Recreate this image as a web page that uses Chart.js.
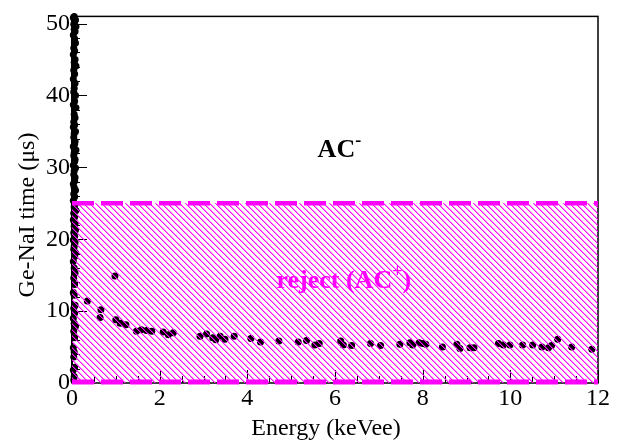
<!DOCTYPE html>
<html>
<head>
<meta charset="utf-8">
<script src="https://cdn.jsdelivr.net/npm/chart.js@4/dist/chart.umd.min.js"></script>
<style>
  html, body { margin: 0; padding: 0; background: #fff; }
  canvas { display: block; }
</style>
</head>
<body>
<canvas id="c" width="625" height="446"></canvas>
<script>
const xTicks = [0, 2, 4, 6, 8, 10, 12];
const yTicks = [0, 10, 20, 30, 40, 50];

// events piled up near zero energy (keVee, µs)
const bandEnergy = [
  0.05, 0.03, 0.08, 0.06, 0.04, 0.09, 0.05, 0.07, 0.03, 0.06,
  0.08, 0.04, 0.06, 0.03, 0.07, 0.05, 0.09, 0.04, 0.06, 0.03,
  0.07, 0.05, 0.04, 0.08, 0.06, 0.03, 0.09, 0.05, 0.07, 0.04,
  0.06, 0.03, 0.08, 0.05, 0.04, 0.07, 0.06, 0.03, 0.09, 0.05,
  0.04, 0.07, 0.06, 0.03, 0.08, 0.05, 0.04, 0.07, 0.06, 0.03,
  0.05, 0.08, 0.04, 0.06, 0.03, 0.07, 0.05, 0.09, 0.04, 0.06,
  0.03, 0.07, 0.05, 0.08, 0.04, 0.06, 0.03, 0.07, 0.05, 0.04,
  0.08, 0.06, 0.03, 0.05, 0.07, 0.04, 0.06, 0.03, 0.05, 0.07,
  0.04, 0.06, 0.03, 0.05, 0.08, 0.04, 0.06, 0.03, 0.05, 0.04,
  0.06, 0.03, 0.05, 0.04
];
const bandTime = [
  51.0, 50.8, 50.5, 50.3, 49.9, 49.6, 49.2, 48.9, 48.4, 47.9,
  47.3, 46.6, 46.2, 45.7, 45.0, 44.6, 44.1, 43.5, 43.0, 42.3,
  41.7, 41.0, 40.5, 40.0, 39.2, 38.7, 38.3, 37.4, 36.9, 36.3,
  35.9, 35.6, 35.0, 34.7, 34.2, 33.6, 33.2, 32.9, 32.4, 32.0,
  31.6, 31.1, 30.8, 30.3, 29.9, 29.5, 29.0, 28.6, 28.1, 27.7,
  27.2, 26.8, 26.3, 25.9, 25.4, 24.9, 24.5, 24.0, 23.6, 23.1,
  22.7, 22.2, 21.8, 21.3, 20.9, 20.4, 19.9, 19.5, 19.0, 18.6,
  18.1, 17.6, 16.9, 16.0, 15.3, 14.6, 13.7, 12.6, 12.2, 10.8,
  10.4, 9.7, 9.0, 8.3, 7.9, 7.2, 6.3, 4.9, 4.3, 3.6,
  2.2, 1.8, 0.9, 0.4
];

// the tail of the rise-time band
const tailEnergy = [
  0.35, 0.66, 0.64, 0.98, 1.00, 1.10, 1.23, 1.47, 1.58, 1.70,
  1.82, 2.08, 2.20, 2.31, 2.92, 3.07, 3.21, 3.28, 3.38, 3.49,
  3.70, 4.08, 4.30, 4.72, 5.16, 5.35, 5.54, 5.64, 6.13, 6.19,
  6.38, 6.81, 7.04, 7.48, 7.71, 7.77, 7.92, 8.00, 8.07, 8.45,
  8.78, 8.85, 9.08, 9.17, 9.73, 9.84, 9.99, 10.28, 10.51, 10.72,
  10.87, 10.94, 11.08, 11.40, 11.86
];
const tailTime = [
  11.4, 10.2, 9.1, 14.9, 8.8, 8.3, 8.1, 7.2, 7.4, 7.3,
  7.2, 7.1, 6.7, 7.0, 6.5, 6.8, 6.3, 6.0, 6.5, 6.1,
  6.5, 6.2, 5.7, 5.85, 5.7, 5.9, 5.3, 5.5, 5.85, 5.3,
  5.2, 5.5, 5.2, 5.4, 5.6, 5.3, 5.6, 5.5, 5.4, 5.0,
  5.4, 4.8, 4.9, 4.9, 5.5, 5.3, 5.3, 5.3, 5.3, 5.0,
  4.9, 5.2, 6.1, 5.0, 4.7
];

// AC cut (µs)
const cutEnergy = [0, 12];
const cutHigh = [25, 25];
const cutLow = [0.15, 0.15];

const MAGENTA = '#ff00ff';
const SERIF = '"Liberation Serif", "Times New Roman", serif';

// — Helpers —
function pairs(xs, ys) {
  return xs.slice(0, Math.min(xs.length, ys.length)).map((x, i) => ({ x, y: ys[i] }));
}

// thin diagonal hatch, top-left to bottom-right
function hatchPattern() {
  const s = 6;
  const c = document.createElement('canvas');
  c.width = s; c.height = s;
  const g = c.getContext('2d');
  for (let i = 0; i < s; i++) {
    g.fillStyle = MAGENTA;
    g.fillRect(i, i, 1, 1);
    g.fillStyle = 'rgba(255,0,255,0.45)';
    g.fillRect((i + 1) % s, i, 1, 1);
  }
  return g.createPattern(c, 'repeat');
}

// text with a superscript piece
function drawSup(ctx, parts, cx, cy, size, color) {
  ctx.save();
  ctx.fillStyle = color;
  ctx.textBaseline = 'alphabetic';
  ctx.textAlign = 'left';
  const big = `bold ${size}px ${SERIF}`;
  const small = `bold ${Math.round(size * 0.68)}px ${SERIF}`;
  let w = 0;
  parts.forEach(p => { ctx.font = p.sup ? small : big; w += ctx.measureText(p.t).width; });
  let x = cx - w / 2;
  const base = cy + size * 0.33;
  parts.forEach(p => {
    ctx.font = p.sup ? small : big;
    ctx.fillText(p.t, x, p.sup ? base - size * 0.42 : base);
    x += ctx.measureText(p.t).width;
  });
  ctx.restore();
}

// — Frame and inner ticks go under the marks, titles and labels on top —
const rootStyle = {
  id: 'rootStyle',
  beforeDatasetsDraw(chart) {
    const { ctx, chartArea: a, scales: { x, y } } = chart;
    ctx.save();
    ctx.strokeStyle = '#000';
    ctx.lineWidth = 1.5;
    ctx.strokeRect(a.left, a.top, a.right - a.left, a.bottom - a.top);
    ctx.lineWidth = 2;
    ctx.beginPath();
    ctx.moveTo(a.left, a.top); ctx.lineTo(a.left, a.bottom);
    ctx.stroke();

    ctx.lineWidth = 1;
    ctx.beginPath();
    for (let v = 0; v <= 12.001; v += 0.5) {
      const px = Math.round(x.getPixelForValue(v)) + 0.5;
      const len = xTicks.includes(Math.round(v * 10) / 10) ? 13 : 7;
      ctx.moveTo(px, a.bottom); ctx.lineTo(px, a.bottom - len);
    }
    for (let v = 0; v <= 50.001; v += 2) {
      const py = Math.round(y.getPixelForValue(v)) + 0.5;
      const len = yTicks.includes(v) ? 15 : 8;
      ctx.moveTo(a.left, py); ctx.lineTo(a.left + len, py);
    }
    ctx.stroke();
    ctx.restore();
  },
  afterDraw(chart) {
    const { ctx, scales: { x, y } } = chart;
    ctx.save();
    ctx.fillStyle = '#000';
    ctx.font = `24px ${SERIF}`;
    ctx.textAlign = 'center';
    ctx.textBaseline = 'middle';
    ctx.fillText('Energy (keVee)', 326, 429);
    ctx.translate(28, 215);
    ctx.rotate(-Math.PI / 2);
    ctx.fillText('Ge-NaI time (μs)', 0, 0);
    ctx.restore();

    drawSup(ctx, [{ t: 'AC' }, { t: '-', sup: true }],
      x.getPixelForValue(6.1), y.getPixelForValue(32.7), 26, '#000');
    drawSup(ctx, [{ t: 'reject (AC' }, { t: '+', sup: true }, { t: ')' }],
      x.getPixelForValue(6.2), y.getPixelForValue(14.4), 26, MAGENTA);
  }
};

const tickFont = { family: SERIF, size: 24 };

new Chart(document.getElementById('c'), {
  type: 'scatter',
  data: {
    datasets: [
      {
        type: 'line',
        label: 'floor',
        data: pairs(cutEnergy, cutLow),
        borderColor: MAGENTA,
        borderWidth: 5,
        borderDash: [22, 7],
        pointRadius: 0,
        fill: false,
        clip: false,
        order: 0
      },
      {
        type: 'line',
        label: 'AC cut',
        data: pairs(cutEnergy, cutHigh),
        borderColor: MAGENTA,
        borderWidth: 4.5,
        borderDash: [22, 7],
        pointRadius: 0,
        fill: 'origin',
        backgroundColor: hatchPattern(),
        clip: false,
        order: 1
      },
      {
        label: 'events',
        data: pairs(bandEnergy, bandTime).concat(pairs(tailEnergy, tailTime)),
        backgroundColor: '#000',
        borderWidth: 0,
        pointRadius: 3.5,
        clip: false,
        order: 2
      }
    ]
  },
  options: {
    responsive: false,
    animation: false,
    layout: { padding: { top: 6, right: 27, left: 0, bottom: 0 } },
    plugins: { legend: { display: false }, tooltip: { enabled: false } },
    scales: {
      x: {
        type: 'linear', min: 0, max: 12,
        afterBuildTicks: s => { s.ticks = xTicks.map(v => ({ value: v })); },
        afterFit: s => { s.height = 63; },
        grid: { display: false, drawTicks: false },
        border: { display: false },
        ticks: { font: tickFont, color: '#000', padding: 1, maxRotation: 0, autoSkip: false }
      },
      y: {
        type: 'linear', min: 0, max: 51,
        afterBuildTicks: s => { s.ticks = yTicks.map(v => ({ value: v })); },
        afterFit: s => { s.width = 72; },
        grid: { display: false, drawTicks: false },
        border: { display: false },
        ticks: { font: tickFont, color: '#000', padding: 2, autoSkip: false }
      }
    }
  },
  plugins: [rootStyle]
});
</script>
</body>
</html>
